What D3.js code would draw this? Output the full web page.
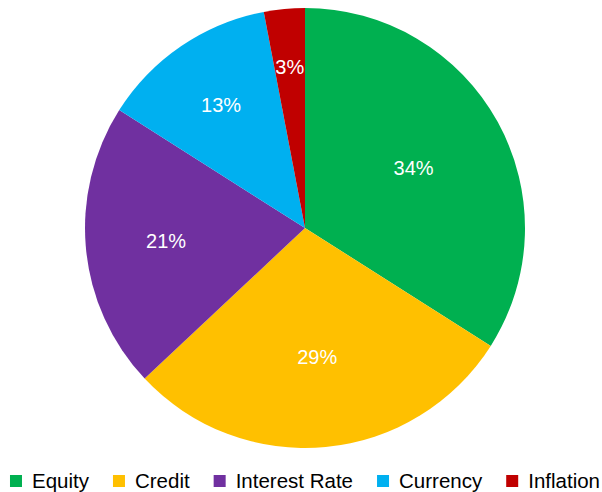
<!DOCTYPE html>
<html>
<head>
<meta charset="utf-8">
<script src="https://cdn.jsdelivr.net/npm/d3@7"></script>
<style>
  body { margin: 0; background: #fff; }
  text { font-family: "Liberation Sans", Arial, Helvetica, sans-serif; }
</style>
</head>
<body>
<div id="chart"></div>
<script>
// data
var categories = ["Equity", "Credit", "Interest Rate", "Currency", "Inflation"];
var values = [34, 29, 21, 13, 3];
var colors = ["#00b050", "#ffc000", "#7030a0", "#00b0f0", "#c00000"];

var w = 602,
    h = 492;

var cx = 305, cy = 228, r = 220;

var svg = d3.select("#chart")
	.append("svg")
	.attr("width", w)
	.attr("height", h);

var data = categories.map(function(c, i) { return {name: c, value: values[i], color: colors[i]}; });

var pie = d3.pie()
	.sort(null)
	.value(function(d) { return d.value; });

var arc = d3.arc()
	.innerRadius(0)
	.outerRadius(r);

var g = svg.append("g")
	.attr("transform", "translate(" + cx + "," + cy + ")");

var arcs = pie(data);

g.selectAll("path")
	.data(arcs)
	.enter()
	.append("path")
	.attr("d", arc)
	.style("fill", function(d) { return d.data.color; });

// labels: small slices sit further out
g.selectAll("text.lbl")
	.data(arcs)
	.enter()
	.append("text")
	.attr("class", "lbl")
	.attr("transform", function(d) {
		var lr = r * (0.75 - 0.55 * d.data.value / 100);
		var a = (d.startAngle + d.endAngle) / 2;
		return "translate(" + (Math.sin(a) * lr) + "," + (-Math.cos(a) * lr) + ")";
	})
	.attr("text-anchor", "middle")
	.attr("dy", "0.35em")
	.style("fill", "#ffffff")
	.style("font-size", "20px")
	.text(function(d) { return d.data.value + "%"; });

// legend
var legend = svg.append("g");
var items = legend.selectAll("g")
	.data(data)
	.enter()
	.append("g");

items.append("rect")
	.attr("width", 12)
	.attr("height", 12)
	.attr("y", 475)
	.style("fill", function(d) { return d.color; });

items.append("text")
	.attr("x", 22)
	.attr("y", 487.5)
	.style("font-size", "20.5px")
	.style("fill", "#000")
	.text(function(d) { return d.name; });

var x = 0;
var offsets = [];
items.each(function() {
	offsets.push(x);
	var tw = d3.select(this).select("text").node().getComputedTextLength();
	x += 22 + tw + 24;
});
var total = x - 24;
var start = cx - total / 2;
items.attr("transform", function(d, i) { return "translate(" + (start + offsets[i]) + ",0)"; });
</script>
</body>
</html>
